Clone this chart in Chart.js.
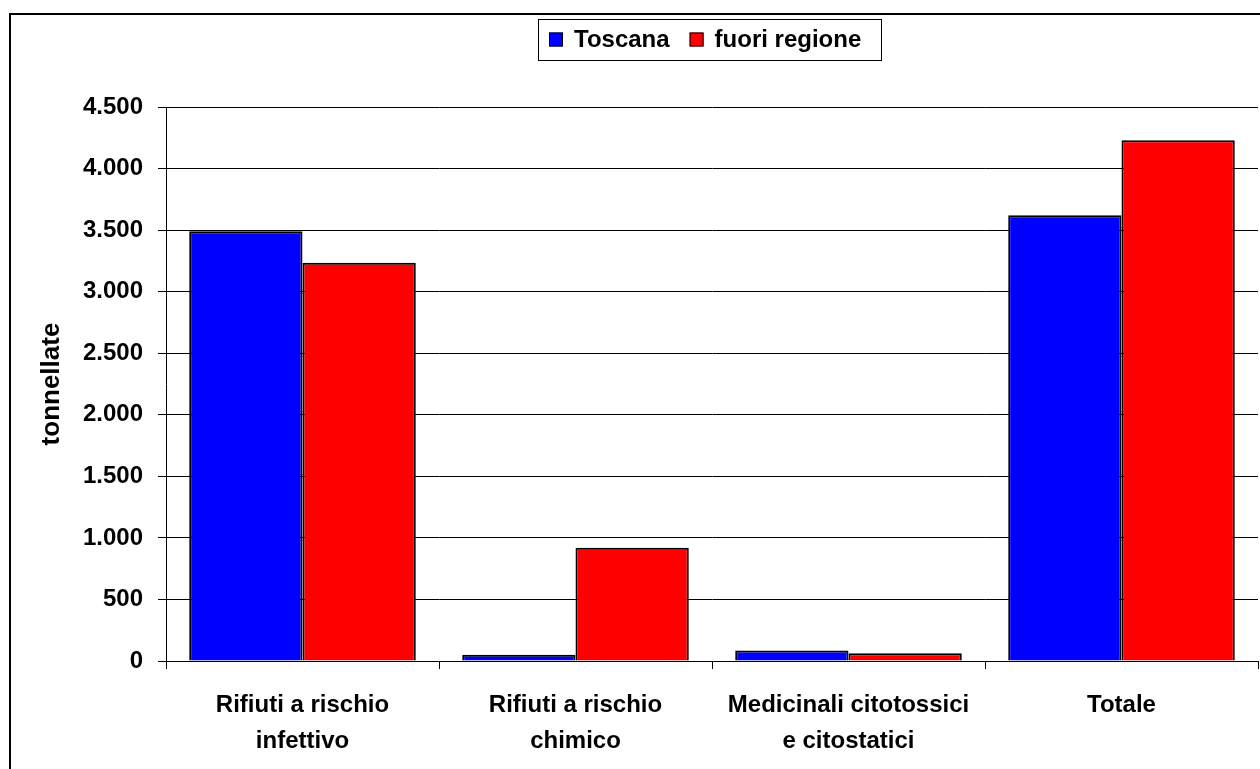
<!DOCTYPE html>
<html>
<head>
<meta charset="utf-8">
<script src="https://cdn.jsdelivr.net/npm/chart.js@4"></script>
<style>
  html, body { margin: 0; padding: 0; background: #fff; }
  #wrap { position: relative; width: 1260px; height: 769px; overflow: hidden; }
  #frame {
    position: absolute; left: 9px; top: 13px; width: 1400px; height: 900px;
    border-left: 2px solid #000; border-top: 2px solid #000;
  }
  #chart { position: absolute; left: 0; top: 0; }
</style>
</head>
<body>
<div id="wrap">
  <div id="frame"></div>
  <canvas id="chart" width="1260" height="769"></canvas>
</div>
<script>
// values (tonnellate)
const categories = [
  ['Rifiuti a rischio', 'infettivo'],
  ['Rifiuti a rischio', 'chimico'],
  ['Medicinali citotossici', 'e citostatici'],
  'Totale'
];
const toscana = [3490, 50, 86, 3620];
const fuoriRegione = [3235, 920, 62, 4230];
const seriesNames = ['Toscana', 'fuori regione'];
const yMax = 4500;
const yStep = 500;

const FONT = '"Liberation Sans", Arial, sans-serif';

// dotted thousands like the original: 4.500
const fmt = v => String(v).replace(/\B(?=(\d{3})+(?!\d))/g, '.');

// boxed legend centred over the plot area
const legendBox = {
  id: 'legendBox',
  afterDraw(chart) {
    const { ctx, chartArea } = chart;
    ctx.save();
    ctx.font = 'bold 24px ' + FONT;
    const items = chart.data.datasets.map(ds => ({
      label: ds.label,
      color: ds.backgroundColor,
      w: ctx.measureText(ds.label).width
    }));
    const padL = 11, sq = 14, gap = 11, between = 20, padR = 20;
    let total = padL + padR;
    items.forEach((it, i) => { total += sq + gap + it.w + (i > 0 ? between : 0); });
    const boxW = Math.round(total);
    const boxH = 41;
    const left = Math.round((chartArea.left + chartArea.right) / 2 - 3 - boxW / 2);
    const top = 19;

    ctx.fillStyle = '#fff';
    ctx.fillRect(left, top, boxW, boxH);
    ctx.strokeStyle = '#000';
    ctx.lineWidth = 1;
    ctx.strokeRect(left + 0.5, top + 0.5, boxW, boxH);

    let x = left + padL;
    const cy = top + boxH / 2;
    items.forEach((it, i) => {
      if (i > 0) x += between;
      ctx.fillStyle = it.color;
      ctx.fillRect(x, cy - 7, sq, sq);
      ctx.strokeRect(x + 0.5, cy - 7 + 0.5, sq - 1, sq - 1);
      x += sq + gap;
      ctx.fillStyle = '#000';
      ctx.textBaseline = 'middle';
      ctx.textAlign = 'left';
      ctx.fillText(it.label, x, cy + 1);
      x += it.w;
    });
    ctx.restore();
  }
};

new Chart(document.getElementById('chart'), {
  type: 'bar',
  data: {
    labels: categories,
    datasets: [
      {
        label: seriesNames[0],
        data: toscana,
        backgroundColor: '#0000ff',
        borderColor: '#000',
        borderWidth: 2,
        categoryPercentage: 0.83,
        barPercentage: 1
      },
      {
        label: seriesNames[1],
        data: fuoriRegione,
        backgroundColor: '#ff0000',
        borderColor: '#000',
        borderWidth: 2,
        categoryPercentage: 0.83,
        barPercentage: 1
      }
    ]
  },
  options: {
    responsive: false,
    animation: false,
    layout: { padding: { top: 107, right: 2, bottom: 0, left: 0 } },
    plugins: {
      legend: { display: false },
      tooltip: { enabled: false }
    },
    scales: {
      x: {
        grid: {
          offset: true,
          drawOnChartArea: false,
          tickLength: 8,
          color: '#000'
        },
        border: { color: '#000', width: 1 },
        ticks: {
          color: '#000',
          padding: 18,
          maxRotation: 0,
          autoSkip: false,
          font: { family: FONT, size: 24, weight: 'bold', lineHeight: 1.5 }
        },
        afterFit: scale => { scale.height = 108; }
      },
      y: {
        min: 0,
        max: yMax,
        grid: { color: '#000', lineWidth: 1, tickLength: 8 },
        border: { color: '#000', width: 1 },
        ticks: {
          stepSize: yStep,
          color: '#000',
          padding: 15,
          font: { family: FONT, size: 24, weight: 'bold' },
          callback: v => fmt(v)
        },
        title: {
          display: true,
          text: 'tonnellate',
          color: '#000',
          padding: { top: 36, bottom: 0 },
          font: { family: FONT, size: 26, weight: 'bold' }
        },
        afterFit: scale => { scale.width = 166; }
      }
    }
  },
  plugins: [legendBox]
});
</script>
</body>
</html>
